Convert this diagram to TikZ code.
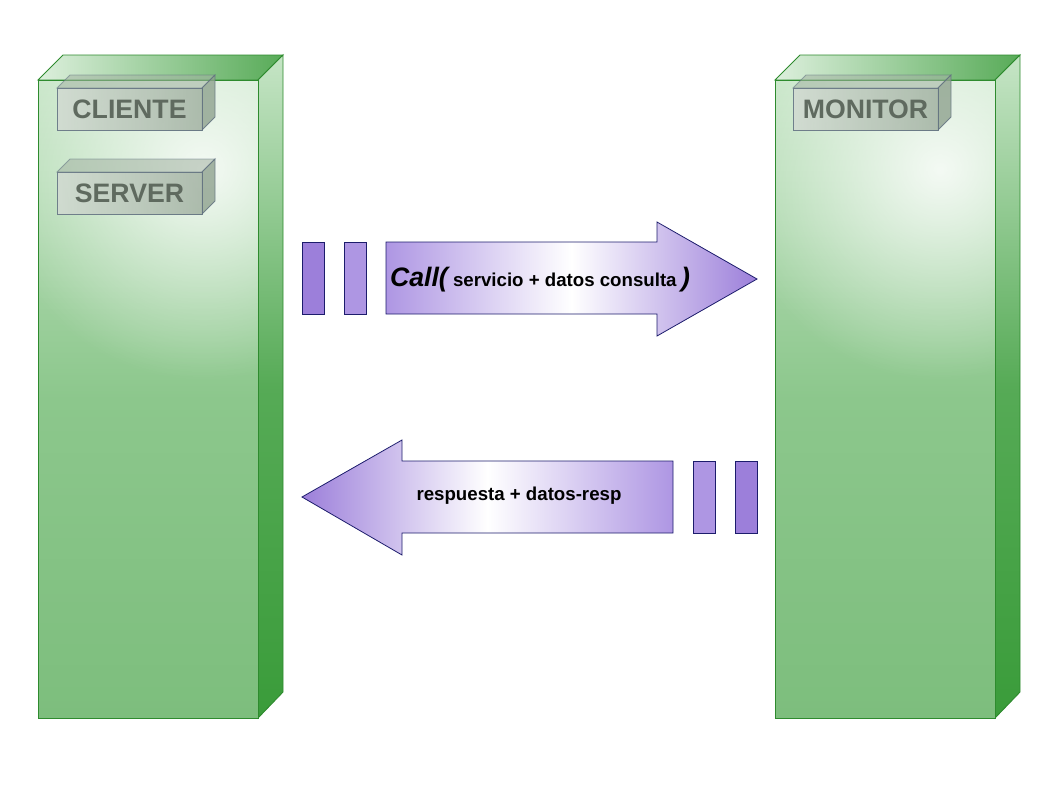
\documentclass[tikz,border=0pt]{standalone}
\usepackage{fontspec}
\setmainfont{Liberation Sans}
\usetikzlibrary{fadings}

\definecolor{boxline}{HTML}{2E8B2E}
\definecolor{boxlight}{HTML}{C6E5C6}
\definecolor{boxmid}{HTML}{8CC78C}
\definecolor{boxdark}{HTML}{7DBE7D}
\definecolor{sidedark}{HTML}{3A9C3A}
\definecolor{tagline}{HTML}{5F6F7F}
\definecolor{tagleft}{HTML}{D2DAD2}
\definecolor{tagright}{HTML}{A2B2A2}
\definecolor{tagside}{HTML}{8FA28F}
\definecolor{tagtext}{HTML}{5F6A5F}
\definecolor{arrowline}{HTML}{1C1C6C}
\definecolor{arrowdeep}{HTML}{9C7FDA}
\definecolor{arrowsoft}{HTML}{AE96E3}

\tikzfading[name=glow, inner color=transparent!0, outer color=transparent!100]

\tikzset{
  frontface/.style={draw=boxline, top color=boxlight, bottom color=boxdark, middle color=boxmid},
  sideface/.style={draw=boxline, top color=boxlight, bottom color=sidedark, middle color=sidedark!80!boxlight},
  topface/.style={draw=boxline, left color=boxlight!60!white, right color=sidedark!85!white},
  tagface/.style={draw=tagline, left color=tagleft, right color=tagright, opacity=0.85},
  tagtop/.style={draw=tagline, fill=tagright, opacity=0.55},
  tagend/.style={draw=tagline, fill=tagside, opacity=0.8},
  tagname/.style={font=\fontsize{20}{20}\selectfont\bfseries, text=tagtext},
  bar/.style={draw=arrowline, fill=#1},
  fatarrow/.style={draw=arrowline, line width=0.6pt},
  msg/.style={font=\fontsize{14}{14}\selectfont\bfseries}
}

\begin{document}
\begin{tikzpicture}[x=0.75pt, y=-0.75pt, line width=0.7pt]
  \useasboundingbox (0,0) rectangle (1058,794);

  \foreach \x in {38,775} {
    \draw[topface] (\x,80) -- ++(25,-25) -- ++(220,0) -- ++(-25,25) -- cycle;
    \draw[sideface] (\x+220,80) -- ++(25,-25) -- ++(0,637) -- ++(-25,26) -- cycle;
    \begin{scope}
      \clip (\x,80) rectangle ++(220,638);
      \shade[frontface] (\x,80) rectangle ++(220,638);
      \fill[white, path fading=glow, fill opacity=0.85] (\x+165,170) circle (210);
    \end{scope}
    \draw[boxline] (\x,80) rectangle ++(220,638);
  }

  \foreach \x/\y in {57/88, 57/172, 793/88} {
    \draw[tagtop] (\x,\y) -- ++(13,-13) -- ++(145,0) -- ++(-13,13) -- cycle;
    \draw[tagend] (\x+145,\y) -- ++(13,-13) -- ++(0,42) -- ++(-13,13) -- cycle;
    \shade[tagface] (\x,\y) rectangle ++(145,42);
  }
  \node[tagname] (cliente) at (129.5,109) {CLIENTE};
  \node[tagname] (server) at (129.5,193) {SERVER};
  \node[tagname] (monitor) at (865.5,109) {MONITOR};

  \draw[bar=arrowdeep] (302,242) rectangle (324,314);
  \draw[bar=arrowsoft] (344,242) rectangle (366,314);
  \shade[fatarrow, left color=arrowsoft, right color=arrowdeep, middle color=white]
    (386,242) -- (657,242) -- (657,222) -- (757,279) -- (657,336) -- (657,314) -- (386,314) -- cycle;
  \node[msg] (call) at (540,280)
    {\fontsize{20}{20}\selectfont\itshape Call(\fontsize{14}{14}\selectfont\upshape\ servicio + datos consulta\fontsize{20}{20}\selectfont\itshape\,)};

  \shade[fatarrow, left color=arrowdeep, right color=arrowsoft, middle color=white]
    (302,497) -- (402,440) -- (402,461) -- (673,461) -- (673,533) -- (402,533) -- (402,555) -- cycle;
  \draw[bar=arrowsoft] (693,461) rectangle (715,533);
  \draw[bar=arrowdeep] (735,461) rectangle (757,533);
  \node[msg] (resp) at (519,496) {respuesta + datos-resp};
\end{tikzpicture}
\end{document}
